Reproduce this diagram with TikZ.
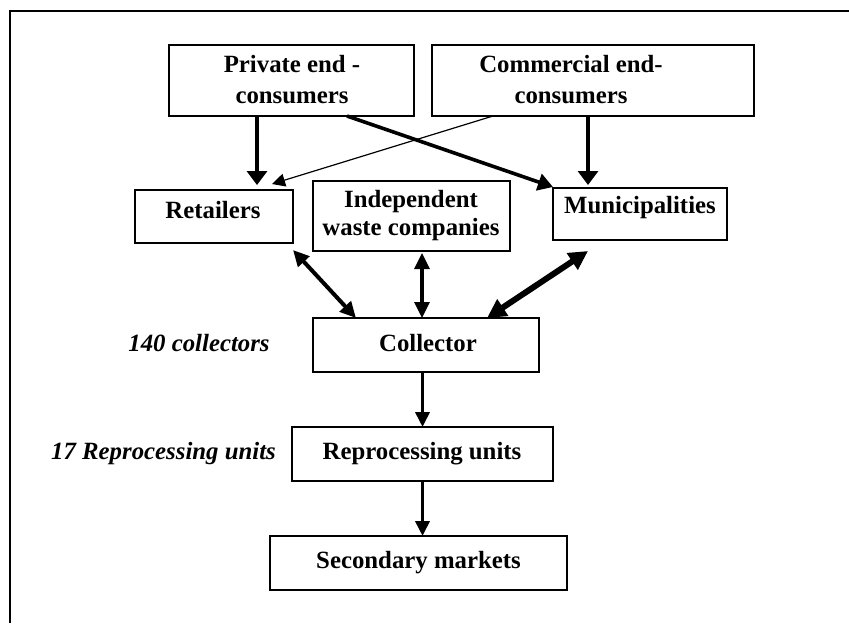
\documentclass[tikz,border=0pt]{standalone}
\usepackage{fontspec}
\setmainfont{Liberation Serif}
\usetikzlibrary{arrows.meta}
\begin{document}
\begin{tikzpicture}[x=0.5pt,y=-0.5pt,
  box/.style={draw,line width=1pt,rectangle,inner sep=0pt,outer sep=0pt},
  lbl/.style={font=\fontsize{12.4}{15.2}\selectfont\bfseries,align=center,inner sep=0pt},
  note/.style={font=\fontsize{12.4}{15}\selectfont\bfseries\itshape,inner sep=0pt},
  flow/.style={line width=1.6pt,-{Triangle[length=7pt,width=10pt]}},
  thin flow/.style={line width=0.6pt,-{Triangle[length=6.5pt,width=6.5pt]}},
  mid flow/.style={line width=1.8pt,-{Triangle[length=7.5pt,width=8.5pt]}},
  both/.style={line width=#1,{Triangle[length=8pt,width=7.5pt]}-{Triangle[length=8pt,width=7.5pt]}},
  heavy both/.style={line width=3pt,{Triangle[length=9.5pt,width=9.5pt]}-{Triangle[length=9.5pt,width=9.5pt]}},
  chain/.style={line width=1.8pt,-{Triangle[length=7.5pt,width=7pt]}}
]
\useasboundingbox (0,0) rectangle (849,623);

% outer frame (left and top edges only)
\draw[line width=1pt] (10,623) -- (10,11) -- (849,11);

% boxes
\node[box,minimum width=122.5pt,minimum height=35.5pt] (priv) at (291.5,80.5) {};
\node[box,minimum width=161pt,minimum height=35.5pt] (comm) at (593,80.5) {};
\node[box,minimum width=79pt,minimum height=26.5pt] (ret) at (214,216.5) {};
\node[box,minimum width=98.5pt,minimum height=35pt] (ind) at (411.5,216) {};
\node[box,minimum width=87pt,minimum height=26pt] (muni) at (640,214) {};
\node[box,minimum width=113pt,minimum height=27pt] (coll) at (426,345) {};
\node[box,minimum width=130.5pt,minimum height=27pt] (rep) at (422.5,454) {};
\node[box,minimum width=148.5pt,minimum height=27pt] (sec) at (418.5,563) {};

% box texts
\node[lbl] (privt) at (292,79.5) {Private end -\\consumers};
\node[lbl] (commt) at (571,79.5) {Commercial end-\\consumers};
\node[lbl] (rett) at (213,210) {Retailers};
\node[lbl,font=\fontsize{12.4}{14}\selectfont\bfseries] (indt) at (411,216) {Independent\\waste companies};
\node[lbl] (munit) at (640,208) {Municipalities};
\node[lbl] (collt) at (428,343) {Collector};
\node[lbl] (rept) at (422,454) {Reprocessing units};
\node[lbl] (sect) at (418.5,563) {Secondary markets};

% side notes
\node[note] (ncoll) at (199,343) {140 collectors};
\node[note] (nrep) at (163.5,454) {17 Reprocessing units};

% flows from end-consumers
\draw[flow] ([xshift=-17.25pt]priv.south) -- ([xshift=21.5pt,yshift=2.5pt]ret.north);
\draw[flow] ([xshift=-2.5pt]comm.south) -- ([xshift=-26pt,yshift=1.5pt]muni.north);
\draw[mid flow] ([xshift=27.75pt]priv.south) -- ([yshift=0.5pt]muni.north west);
\draw[thin flow] ([xshift=-50pt]comm.south) -- ([xshift=29pt,yshift=3pt]ret.north);

% exchanges with the collector
\draw[both=2pt] ([yshift=-3.5pt]ret.south east) -- ([xshift=-35pt]coll.north);
\draw[both=1.6pt] ([xshift=5.25pt,yshift=-1pt]ind.south) -- ([xshift=-2pt]coll.north);
\draw[heavy both] ([xshift=-26pt,yshift=-5.5pt]muni.south) -- ([xshift=30.5pt]coll.north);

% downstream chain
\draw[chain] (rep.north |- coll.south) -- (rep.north);
\draw[chain] (rep.south) -- (sec.north -| rep.south);
\end{tikzpicture}
\end{document}
